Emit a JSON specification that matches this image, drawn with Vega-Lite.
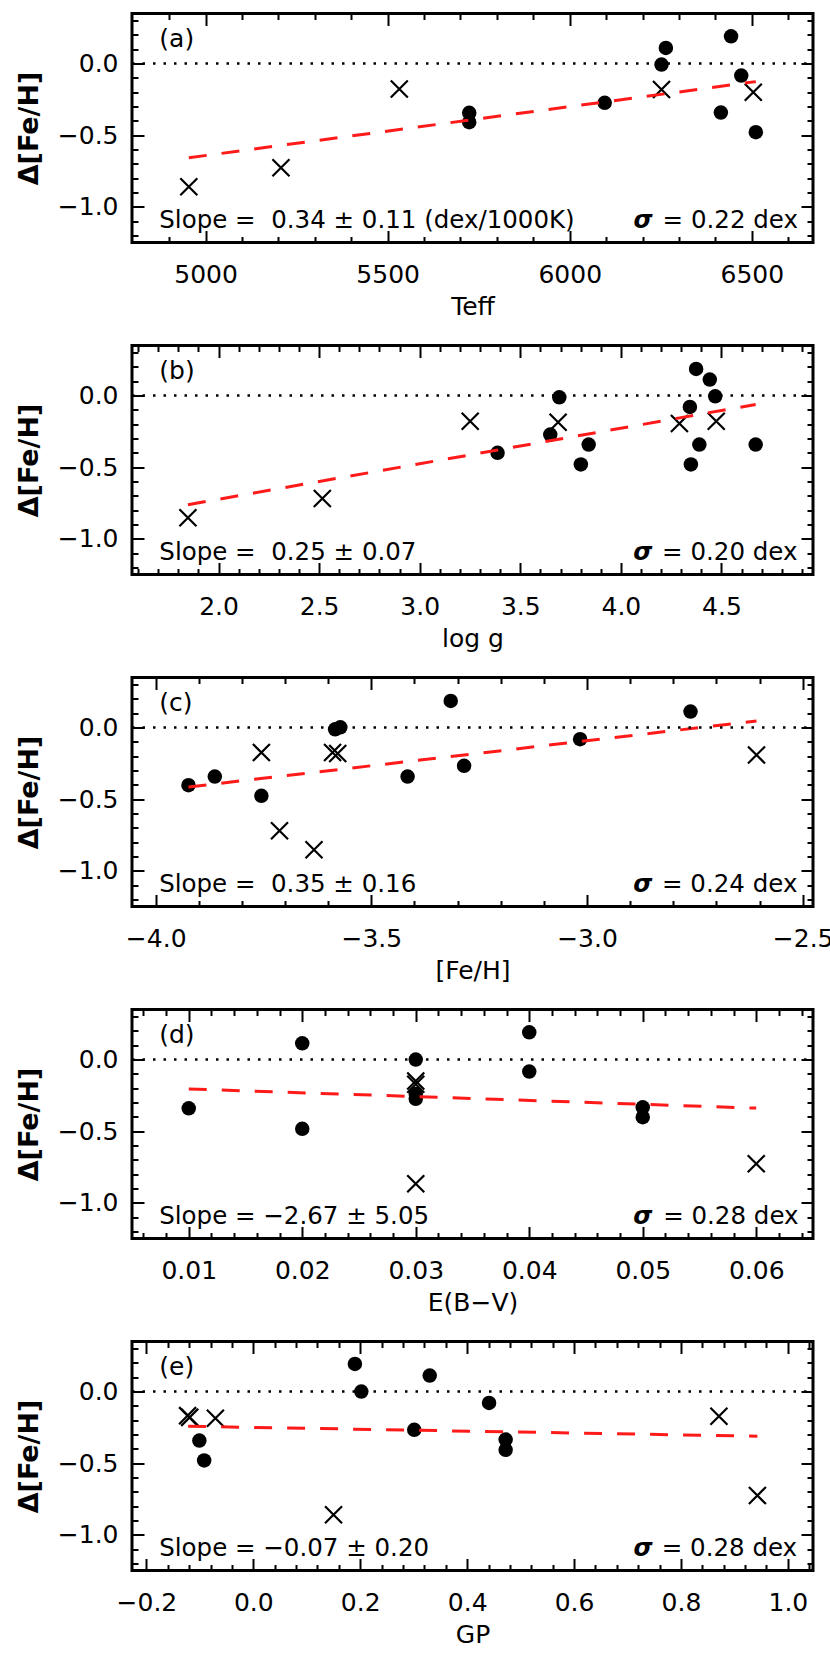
{
  "$schema": "https://vega.github.io/schema/vega-lite/v6.json",
  "background": "white",
  "padding": {"left": 13, "top": 10.5, "right": 0, "bottom": 0},
  "bounds": "flush",
  "spacing": 103,
  "config": {
    "font": "DejaVu Sans",
    "view": {"stroke": "black", "strokeWidth": 3},
    "axis": {"labelFont": "DejaVu Sans", "labelFontSize": 25, "labelColor": "black", "titleFont": "DejaVu Sans", "titleFontSize": 25, "titleFontWeight": "normal", "titleColor": "black", "grid": false, "domain": false, "tickColor": "black", "tickWidth": 2, "labelFlush": false, "labelOverlap": false, "labelBound": false},
    "text": {"font": "DejaVu Sans", "color": "black"}
  },
  "datasets": {
    "one": [{"k": 1}],
    "pa": [
      {"x": 5724, "d": -0.344, "kind": "circle"}, {"x": 5724, "d": -0.409, "kind": "circle"}, {"x": 6096, "d": -0.274, "kind": "circle"},
      {"x": 6252, "d": -0.007, "kind": "circle"}, {"x": 6264, "d": 0.109, "kind": "circle"}, {"x": 6443, "d": 0.191, "kind": "circle"},
      {"x": 6471, "d": -0.084, "kind": "circle"}, {"x": 6415, "d": -0.342, "kind": "circle"}, {"x": 6511, "d": -0.479, "kind": "circle"},
      {"x": 4954, "d": -0.86, "kind": "cross"}, {"x": 5207, "d": -0.728, "kind": "cross"}, {"x": 5532, "d": -0.177, "kind": "cross"},
      {"x": 6252, "d": -0.181, "kind": "cross"}, {"x": 6504, "d": -0.2, "kind": "cross"}
    ],
    "fa": [{"x": 4954, "d": -0.658}, {"x": 6511, "d": -0.126}],
    "pb": [
      {"x": 3.387, "d": -0.4, "kind": "circle"}, {"x": 3.649, "d": -0.272, "kind": "circle"}, {"x": 3.694, "d": -0.012, "kind": "circle"},
      {"x": 3.801, "d": -0.481, "kind": "circle"}, {"x": 3.84, "d": -0.342, "kind": "circle"}, {"x": 4.343, "d": -0.079, "kind": "circle"},
      {"x": 4.348, "d": -0.481, "kind": "circle"}, {"x": 4.374, "d": 0.186, "kind": "circle"}, {"x": 4.39, "d": -0.342, "kind": "circle"},
      {"x": 4.442, "d": 0.112, "kind": "circle"}, {"x": 4.469, "d": -0.005, "kind": "circle"}, {"x": 4.67, "d": -0.342, "kind": "circle"},
      {"x": 1.848, "d": -0.853, "kind": "cross"}, {"x": 2.516, "d": -0.719, "kind": "cross"}, {"x": 3.251, "d": -0.179, "kind": "cross"},
      {"x": 3.688, "d": -0.186, "kind": "cross"}, {"x": 4.291, "d": -0.195, "kind": "cross"}, {"x": 4.474, "d": -0.179, "kind": "cross"}
    ],
    "fb": [{"x": 1.848, "d": -0.762}, {"x": 4.67, "d": -0.062}],
    "pc": [
      {"x": -3.924, "d": -0.402, "kind": "circle"}, {"x": -3.863, "d": -0.342, "kind": "circle"}, {"x": -3.755, "d": -0.477, "kind": "circle"},
      {"x": -3.584, "d": -0.012, "kind": "circle"}, {"x": -3.572, "d": 0.002, "kind": "circle"}, {"x": -3.416, "d": -0.342, "kind": "circle"},
      {"x": -3.316, "d": 0.186, "kind": "circle"}, {"x": -3.285, "d": -0.267, "kind": "circle"}, {"x": -3.016, "d": -0.081, "kind": "circle"},
      {"x": -2.76, "d": 0.112, "kind": "circle"},
      {"x": -3.755, "d": -0.174, "kind": "cross"}, {"x": -3.713, "d": -0.721, "kind": "cross"}, {"x": -3.633, "d": -0.853, "kind": "cross"},
      {"x": -3.59, "d": -0.174, "kind": "cross"}, {"x": -3.578, "d": -0.181, "kind": "cross"}, {"x": -2.607, "d": -0.191, "kind": "cross"}
    ],
    "fc": [{"x": -3.924, "d": -0.415}, {"x": -2.607, "d": 0.046}],
    "pd": [
      {"x": 0.01, "d": -0.34, "kind": "circle"}, {"x": 0.02, "d": 0.114, "kind": "circle"}, {"x": 0.02, "d": -0.484, "kind": "circle"},
      {"x": 0.03, "d": 0.0, "kind": "circle"}, {"x": 0.03, "d": -0.24, "kind": "circle"}, {"x": 0.03, "d": -0.274, "kind": "circle"},
      {"x": 0.04, "d": 0.191, "kind": "circle"}, {"x": 0.04, "d": -0.084, "kind": "circle"}, {"x": 0.05, "d": -0.333, "kind": "circle"},
      {"x": 0.05, "d": -0.402, "kind": "circle"},
      {"x": 0.03, "d": -0.15, "kind": "cross"}, {"x": 0.03, "d": -0.172, "kind": "cross"}, {"x": 0.03, "d": -0.867, "kind": "cross"},
      {"x": 0.06, "d": -0.728, "kind": "cross"}
    ],
    "fd": [{"x": 0.01, "d": -0.205}, {"x": 0.06, "d": -0.339}],
    "pe": [
      {"x": -0.101, "d": -0.342, "kind": "circle"}, {"x": -0.092, "d": -0.481, "kind": "circle"}, {"x": 0.19, "d": 0.193, "kind": "circle"},
      {"x": 0.202, "d": 0.0, "kind": "circle"}, {"x": 0.301, "d": -0.267, "kind": "circle"}, {"x": 0.33, "d": 0.112, "kind": "circle"},
      {"x": 0.441, "d": -0.079, "kind": "circle"}, {"x": 0.472, "d": -0.335, "kind": "circle"}, {"x": 0.472, "d": -0.407, "kind": "circle"},
      {"x": -0.123, "d": -0.168, "kind": "cross"}, {"x": -0.119, "d": -0.18, "kind": "cross"}, {"x": -0.071, "d": -0.186, "kind": "cross"},
      {"x": 0.15, "d": -0.86, "kind": "cross"}, {"x": 0.871, "d": -0.172, "kind": "cross"}, {"x": 0.943, "d": -0.726, "kind": "cross"}
    ],
    "fe": [{"x": -0.122, "d": -0.242}, {"x": 0.943, "d": -0.312}]
  },
  "vconcat": [
    {
      "width": 681, "height": 229,
      "resolve": {"axis": {"x": "independent", "y": "independent"}},
      "layer": [
        {"data": {"name": "pa"}, "transform": [{"filter": "datum.kind === 'circle'"}],
         "mark": {"type": "point", "shape": "circle", "filled": true, "color": "black", "opacity": 1, "size": 210},
         "encoding": {
           "x": {"field": "x", "type": "quantitative", "scale": {"domain": [4798, 6668], "nice": false, "zero": false},
                 "axis": {"orient": "bottom", "values": [5000, 5500, 6000, 6500], "format": "d", "ticks": false, "labelPadding": 20, "title": "Teff", "titlePadding": 7}},
           "y": {"field": "d", "type": "quantitative", "scale": {"domain": [-1.25, 0.35], "nice": false, "zero": false},
                 "axis": {"orient": "left", "values": [0, -0.5, -1], "format": ".1f", "ticks": false, "labelPadding": 14, "title": "Δ[Fe/H]", "titleFontWeight": "bold", "titleFontSize": 27, "titlePadding": 14}}
         }},
        {"data": {"name": "pa"}, "transform": [{"filter": "datum.kind === 'cross'"}],
         "mark": {"type": "point", "shape": "M-1,-1L1,1M-1,1L1,-1", "filled": false, "color": "black", "opacity": 1, "size": 290, "strokeWidth": 2.2},
         "encoding": {
           "x": {"field": "x", "type": "quantitative", "scale": {"domain": [4798, 6668], "nice": false, "zero": false},
                 "axis": {"orient": "bottom", "values": [5000, 5500, 6000, 6500], "labels": false, "tickSize": -12, "title": null}},
           "y": {"field": "d", "type": "quantitative", "scale": {"domain": [-1.25, 0.35], "nice": false, "zero": false},
                 "axis": {"orient": "left", "values": [0, -0.5, -1], "labels": false, "tickSize": -12, "title": null}}
         }},
        {"data": {"name": "fa"},
         "mark": {"type": "line", "color": "#ff1a1a", "strokeWidth": 3, "strokeDash": [18, 15]},
         "encoding": {
           "x": {"field": "x", "type": "quantitative", "scale": {"domain": [4798, 6668], "nice": false, "zero": false},
                 "axis": {"orient": "bottom", "values": [4900, 5100, 5200, 5300, 5400, 5600, 5700, 5800, 5900, 6100, 6200, 6300, 6400, 6600], "labels": false, "tickSize": -6, "title": null}},
           "y": {"field": "d", "type": "quantitative", "scale": {"domain": [-1.25, 0.35], "nice": false, "zero": false},
                 "axis": {"orient": "left", "values": [0.3, 0.2, 0.1, -0.1, -0.2, -0.3, -0.4, -0.6, -0.7, -0.8, -0.9, -1.1, -1.2], "labels": false, "tickSize": -6, "title": null}}
         }},
        {"data": {"name": "one"},
         "mark": {"type": "rule", "color": "black", "strokeWidth": 2.5, "strokeDash": [2.5, 8]},
         "encoding": {
           "x": {"datum": 4798, "type": "quantitative", "scale": {"domain": [4798, 6668], "nice": false, "zero": false},
                 "axis": {"orient": "top", "values": [5000, 5500, 6000, 6500], "labels": false, "tickSize": -12, "title": null}},
           "x2": {"datum": 6668},
           "y": {"datum": 0, "type": "quantitative", "scale": {"domain": [-1.25, 0.35], "nice": false, "zero": false},
                 "axis": {"orient": "right", "values": [0, -0.5, -1], "labels": false, "tickSize": -12, "title": null}}
         }},
        {"data": {"name": "one"},
         "mark": {"type": "text", "align": "left", "baseline": "middle", "fontSize": 25},
         "encoding": {
           "text": {"value": "(a)"},
           "x": {"datum": 4873, "type": "quantitative", "scale": {"domain": [4798, 6668], "nice": false, "zero": false},
                 "axis": {"orient": "top", "values": [4900, 5100, 5200, 5300, 5400, 5600, 5700, 5800, 5900, 6100, 6200, 6300, 6400, 6600], "labels": false, "tickSize": -6, "title": null}},
           "y": {"datum": 0.175, "type": "quantitative", "scale": {"domain": [-1.25, 0.35], "nice": false, "zero": false},
                 "axis": {"orient": "right", "values": [0.3, 0.2, 0.1, -0.1, -0.2, -0.3, -0.4, -0.6, -0.7, -0.8, -0.9, -1.1, -1.2], "labels": false, "tickSize": -6, "title": null}}
         }},
        {"data": {"name": "one"},
         "mark": {"type": "text", "align": "left", "baseline": "alphabetic", "fontSize": 24.5},
         "encoding": {
           "text": {"value": "Slope = \u00a00.34 ± 0.11 (dex/1000K)"},
           "x": {"datum": 4873, "type": "quantitative", "scale": {"domain": [4798, 6668], "nice": false, "zero": false}, "axis": null},
           "y": {"datum": -1.15, "type": "quantitative", "scale": {"domain": [-1.25, 0.35], "nice": false, "zero": false}, "axis": null}
         }},
        {"data": {"name": "one"},
         "mark": {"type": "text", "align": "left", "baseline": "alphabetic", "fontSize": 24.5, "fontStyle": "italic", "fontWeight": "bold"},
         "encoding": {
           "text": {"value": "σ"},
           "x": {"datum": 6175, "type": "quantitative", "scale": {"domain": [4798, 6668], "nice": false, "zero": false}, "axis": null},
           "y": {"datum": -1.15, "type": "quantitative", "scale": {"domain": [-1.25, 0.35], "nice": false, "zero": false}, "axis": null}
         }},
        {"data": {"name": "one"},
         "mark": {"type": "text", "align": "left", "baseline": "alphabetic", "fontSize": 24.5},
         "encoding": {
           "text": {"value": "= 0.22 dex"},
           "x": {"datum": 6255, "type": "quantitative", "scale": {"domain": [4798, 6668], "nice": false, "zero": false}, "axis": null},
           "y": {"datum": -1.15, "type": "quantitative", "scale": {"domain": [-1.25, 0.35], "nice": false, "zero": false}, "axis": null}
         }}
      ]
    },
    {
      "width": 681, "height": 229,
      "resolve": {"axis": {"x": "independent", "y": "independent"}},
      "layer": [
        {"data": {"name": "pb"}, "transform": [{"filter": "datum.kind === 'circle'"}],
         "mark": {"type": "point", "shape": "circle", "filled": true, "color": "black", "opacity": 1, "size": 210},
         "encoding": {
           "x": {"field": "x", "type": "quantitative", "scale": {"domain": [1.57, 4.955], "nice": false, "zero": false},
                 "axis": {"orient": "bottom", "values": [2.0, 2.5, 3.0, 3.5, 4.0, 4.5], "format": ".1f", "ticks": false, "labelPadding": 20, "title": "log g", "titlePadding": 7}},
           "y": {"field": "d", "type": "quantitative", "scale": {"domain": [-1.25, 0.35], "nice": false, "zero": false},
                 "axis": {"orient": "left", "values": [0, -0.5, -1], "format": ".1f", "ticks": false, "labelPadding": 14, "title": "Δ[Fe/H]", "titleFontWeight": "bold", "titleFontSize": 27, "titlePadding": 14}}
         }},
        {"data": {"name": "pb"}, "transform": [{"filter": "datum.kind === 'cross'"}],
         "mark": {"type": "point", "shape": "M-1,-1L1,1M-1,1L1,-1", "filled": false, "color": "black", "opacity": 1, "size": 290, "strokeWidth": 2.2},
         "encoding": {
           "x": {"field": "x", "type": "quantitative", "scale": {"domain": [1.57, 4.955], "nice": false, "zero": false},
                 "axis": {"orient": "bottom", "values": [2.0, 2.5, 3.0, 3.5, 4.0, 4.5], "labels": false, "tickSize": -12, "title": null}},
           "y": {"field": "d", "type": "quantitative", "scale": {"domain": [-1.25, 0.35], "nice": false, "zero": false},
                 "axis": {"orient": "left", "values": [0, -0.5, -1], "labels": false, "tickSize": -12, "title": null}}
         }},
        {"data": {"name": "fb"},
         "mark": {"type": "line", "color": "#ff1a1a", "strokeWidth": 3, "strokeDash": [18, 15]},
         "encoding": {
           "x": {"field": "x", "type": "quantitative", "scale": {"domain": [1.57, 4.955], "nice": false, "zero": false},
                 "axis": {"orient": "bottom", "values": [1.6, 1.7, 1.8, 1.9, 2.1, 2.2, 2.3, 2.4, 2.6, 2.7, 2.8, 2.9, 3.1, 3.2, 3.3, 3.4, 3.6, 3.7, 3.8, 3.9, 4.1, 4.2, 4.3, 4.4, 4.6, 4.7, 4.8, 4.9], "labels": false, "tickSize": -6, "title": null}},
           "y": {"field": "d", "type": "quantitative", "scale": {"domain": [-1.25, 0.35], "nice": false, "zero": false},
                 "axis": {"orient": "left", "values": [0.3, 0.2, 0.1, -0.1, -0.2, -0.3, -0.4, -0.6, -0.7, -0.8, -0.9, -1.1, -1.2], "labels": false, "tickSize": -6, "title": null}}
         }},
        {"data": {"name": "one"},
         "mark": {"type": "rule", "color": "black", "strokeWidth": 2.5, "strokeDash": [2.5, 8]},
         "encoding": {
           "x": {"datum": 1.57, "type": "quantitative", "scale": {"domain": [1.57, 4.955], "nice": false, "zero": false},
                 "axis": {"orient": "top", "values": [2.0, 2.5, 3.0, 3.5, 4.0, 4.5], "labels": false, "tickSize": -12, "title": null}},
           "x2": {"datum": 4.955},
           "y": {"datum": 0, "type": "quantitative", "scale": {"domain": [-1.25, 0.35], "nice": false, "zero": false},
                 "axis": {"orient": "right", "values": [0, -0.5, -1], "labels": false, "tickSize": -12, "title": null}}
         }},
        {"data": {"name": "one"},
         "mark": {"type": "text", "align": "left", "baseline": "middle", "fontSize": 25},
         "encoding": {
           "text": {"value": "(b)"},
           "x": {"datum": 1.706, "type": "quantitative", "scale": {"domain": [1.57, 4.955], "nice": false, "zero": false},
                 "axis": {"orient": "top", "values": [1.6, 1.7, 1.8, 1.9, 2.1, 2.2, 2.3, 2.4, 2.6, 2.7, 2.8, 2.9, 3.1, 3.2, 3.3, 3.4, 3.6, 3.7, 3.8, 3.9, 4.1, 4.2, 4.3, 4.4, 4.6, 4.7, 4.8, 4.9], "labels": false, "tickSize": -6, "title": null}},
           "y": {"datum": 0.175, "type": "quantitative", "scale": {"domain": [-1.25, 0.35], "nice": false, "zero": false},
                 "axis": {"orient": "right", "values": [0.3, 0.2, 0.1, -0.1, -0.2, -0.3, -0.4, -0.6, -0.7, -0.8, -0.9, -1.1, -1.2], "labels": false, "tickSize": -6, "title": null}}
         }},
        {"data": {"name": "one"},
         "mark": {"type": "text", "align": "left", "baseline": "alphabetic", "fontSize": 24.5},
         "encoding": {
           "text": {"value": "Slope = \u00a00.25 ± 0.07"},
           "x": {"datum": 1.706, "type": "quantitative", "scale": {"domain": [1.57, 4.955], "nice": false, "zero": false}, "axis": null},
           "y": {"datum": -1.15, "type": "quantitative", "scale": {"domain": [-1.25, 0.35], "nice": false, "zero": false}, "axis": null}
         }},
        {"data": {"name": "one"},
         "mark": {"type": "text", "align": "left", "baseline": "alphabetic", "fontSize": 24.5, "fontStyle": "italic", "fontWeight": "bold"},
         "encoding": {
           "text": {"value": "σ"},
           "x": {"datum": 4.062, "type": "quantitative", "scale": {"domain": [1.57, 4.955], "nice": false, "zero": false}, "axis": null},
           "y": {"datum": -1.15, "type": "quantitative", "scale": {"domain": [-1.25, 0.35], "nice": false, "zero": false}, "axis": null}
         }},
        {"data": {"name": "one"},
         "mark": {"type": "text", "align": "left", "baseline": "alphabetic", "fontSize": 24.5},
         "encoding": {
           "text": {"value": "= 0.20 dex"},
           "x": {"datum": 4.205, "type": "quantitative", "scale": {"domain": [1.57, 4.955], "nice": false, "zero": false}, "axis": null},
           "y": {"datum": -1.15, "type": "quantitative", "scale": {"domain": [-1.25, 0.35], "nice": false, "zero": false}, "axis": null}
         }}
      ]
    },
    {
      "width": 681, "height": 229,
      "resolve": {"axis": {"x": "independent", "y": "independent"}},
      "layer": [
        {"data": {"name": "pc"}, "transform": [{"filter": "datum.kind === 'circle'"}],
         "mark": {"type": "point", "shape": "circle", "filled": true, "color": "black", "opacity": 1, "size": 210},
         "encoding": {
           "x": {"field": "x", "type": "quantitative", "scale": {"domain": [-4.055, -2.476], "nice": false, "zero": false},
                 "axis": {"orient": "bottom", "values": [-4.0, -3.5, -3.0, -2.5], "format": ".1f", "ticks": false, "labelPadding": 20, "title": "[Fe/H]", "titlePadding": 7}},
           "y": {"field": "d", "type": "quantitative", "scale": {"domain": [-1.25, 0.35], "nice": false, "zero": false},
                 "axis": {"orient": "left", "values": [0, -0.5, -1], "format": ".1f", "ticks": false, "labelPadding": 14, "title": "Δ[Fe/H]", "titleFontWeight": "bold", "titleFontSize": 27, "titlePadding": 14}}
         }},
        {"data": {"name": "pc"}, "transform": [{"filter": "datum.kind === 'cross'"}],
         "mark": {"type": "point", "shape": "M-1,-1L1,1M-1,1L1,-1", "filled": false, "color": "black", "opacity": 1, "size": 290, "strokeWidth": 2.2},
         "encoding": {
           "x": {"field": "x", "type": "quantitative", "scale": {"domain": [-4.055, -2.476], "nice": false, "zero": false},
                 "axis": {"orient": "bottom", "values": [-4.0, -3.5, -3.0, -2.5], "labels": false, "tickSize": -12, "title": null}},
           "y": {"field": "d", "type": "quantitative", "scale": {"domain": [-1.25, 0.35], "nice": false, "zero": false},
                 "axis": {"orient": "left", "values": [0, -0.5, -1], "labels": false, "tickSize": -12, "title": null}}
         }},
        {"data": {"name": "fc"},
         "mark": {"type": "line", "color": "#ff1a1a", "strokeWidth": 3, "strokeDash": [18, 15]},
         "encoding": {
           "x": {"field": "x", "type": "quantitative", "scale": {"domain": [-4.055, -2.476], "nice": false, "zero": false},
                 "axis": {"orient": "bottom", "values": [-3.9, -3.8, -3.7, -3.6, -3.4, -3.3, -3.2, -3.1, -2.9, -2.8, -2.7, -2.6], "labels": false, "tickSize": -6, "title": null}},
           "y": {"field": "d", "type": "quantitative", "scale": {"domain": [-1.25, 0.35], "nice": false, "zero": false},
                 "axis": {"orient": "left", "values": [0.3, 0.2, 0.1, -0.1, -0.2, -0.3, -0.4, -0.6, -0.7, -0.8, -0.9, -1.1, -1.2], "labels": false, "tickSize": -6, "title": null}}
         }},
        {"data": {"name": "one"},
         "mark": {"type": "rule", "color": "black", "strokeWidth": 2.5, "strokeDash": [2.5, 8]},
         "encoding": {
           "x": {"datum": -4.055, "type": "quantitative", "scale": {"domain": [-4.055, -2.476], "nice": false, "zero": false},
                 "axis": {"orient": "top", "values": [-4.0, -3.5, -3.0, -2.5], "labels": false, "tickSize": -12, "title": null}},
           "x2": {"datum": -2.476},
           "y": {"datum": 0, "type": "quantitative", "scale": {"domain": [-1.25, 0.35], "nice": false, "zero": false},
                 "axis": {"orient": "right", "values": [0, -0.5, -1], "labels": false, "tickSize": -12, "title": null}}
         }},
        {"data": {"name": "one"},
         "mark": {"type": "text", "align": "left", "baseline": "middle", "fontSize": 25},
         "encoding": {
           "text": {"value": "(c)"},
           "x": {"datum": -3.992, "type": "quantitative", "scale": {"domain": [-4.055, -2.476], "nice": false, "zero": false},
                 "axis": {"orient": "top", "values": [-3.9, -3.8, -3.7, -3.6, -3.4, -3.3, -3.2, -3.1, -2.9, -2.8, -2.7, -2.6], "labels": false, "tickSize": -6, "title": null}},
           "y": {"datum": 0.175, "type": "quantitative", "scale": {"domain": [-1.25, 0.35], "nice": false, "zero": false},
                 "axis": {"orient": "right", "values": [0.3, 0.2, 0.1, -0.1, -0.2, -0.3, -0.4, -0.6, -0.7, -0.8, -0.9, -1.1, -1.2], "labels": false, "tickSize": -6, "title": null}}
         }},
        {"data": {"name": "one"},
         "mark": {"type": "text", "align": "left", "baseline": "alphabetic", "fontSize": 24.5},
         "encoding": {
           "text": {"value": "Slope = \u00a00.35 ± 0.16"},
           "x": {"datum": -3.992, "type": "quantitative", "scale": {"domain": [-4.055, -2.476], "nice": false, "zero": false}, "axis": null},
           "y": {"datum": -1.15, "type": "quantitative", "scale": {"domain": [-1.25, 0.35], "nice": false, "zero": false}, "axis": null}
         }},
        {"data": {"name": "one"},
         "mark": {"type": "text", "align": "left", "baseline": "alphabetic", "fontSize": 24.5, "fontStyle": "italic", "fontWeight": "bold"},
         "encoding": {
           "text": {"value": "σ"},
           "x": {"datum": -2.893, "type": "quantitative", "scale": {"domain": [-4.055, -2.476], "nice": false, "zero": false}, "axis": null},
           "y": {"datum": -1.15, "type": "quantitative", "scale": {"domain": [-1.25, 0.35], "nice": false, "zero": false}, "axis": null}
         }},
        {"data": {"name": "one"},
         "mark": {"type": "text", "align": "left", "baseline": "alphabetic", "fontSize": 24.5},
         "encoding": {
           "text": {"value": "= 0.24 dex"},
           "x": {"datum": -2.826, "type": "quantitative", "scale": {"domain": [-4.055, -2.476], "nice": false, "zero": false}, "axis": null},
           "y": {"datum": -1.15, "type": "quantitative", "scale": {"domain": [-1.25, 0.35], "nice": false, "zero": false}, "axis": null}
         }}
      ]
    },
    {
      "width": 681, "height": 229,
      "resolve": {"axis": {"x": "independent", "y": "independent"}},
      "layer": [
        {"data": {"name": "pd"}, "transform": [{"filter": "datum.kind === 'circle'"}],
         "mark": {"type": "point", "shape": "circle", "filled": true, "color": "black", "opacity": 1, "size": 210},
         "encoding": {
           "x": {"field": "x", "type": "quantitative", "scale": {"domain": [0.005, 0.065], "nice": false, "zero": false},
                 "axis": {"orient": "bottom", "values": [0.01, 0.02, 0.03, 0.04, 0.05, 0.06], "format": ".2f", "ticks": false, "labelPadding": 20, "title": "E(B−V)", "titlePadding": 7}},
           "y": {"field": "d", "type": "quantitative", "scale": {"domain": [-1.25, 0.35], "nice": false, "zero": false},
                 "axis": {"orient": "left", "values": [0, -0.5, -1], "format": ".1f", "ticks": false, "labelPadding": 14, "title": "Δ[Fe/H]", "titleFontWeight": "bold", "titleFontSize": 27, "titlePadding": 14}}
         }},
        {"data": {"name": "pd"}, "transform": [{"filter": "datum.kind === 'cross'"}],
         "mark": {"type": "point", "shape": "M-1,-1L1,1M-1,1L1,-1", "filled": false, "color": "black", "opacity": 1, "size": 290, "strokeWidth": 2.2},
         "encoding": {
           "x": {"field": "x", "type": "quantitative", "scale": {"domain": [0.005, 0.065], "nice": false, "zero": false},
                 "axis": {"orient": "bottom", "values": [0.01, 0.02, 0.03, 0.04, 0.05, 0.06], "labels": false, "tickSize": -12, "title": null}},
           "y": {"field": "d", "type": "quantitative", "scale": {"domain": [-1.25, 0.35], "nice": false, "zero": false},
                 "axis": {"orient": "left", "values": [0, -0.5, -1], "labels": false, "tickSize": -12, "title": null}}
         }},
        {"data": {"name": "fd"},
         "mark": {"type": "line", "color": "#ff1a1a", "strokeWidth": 3, "strokeDash": [18, 15]},
         "encoding": {
           "x": {"field": "x", "type": "quantitative", "scale": {"domain": [0.005, 0.065], "nice": false, "zero": false},
                 "axis": {"orient": "bottom", "values": [0.006, 0.008, 0.012, 0.014, 0.016, 0.018, 0.022, 0.024, 0.026, 0.028, 0.032, 0.034, 0.036, 0.038, 0.042, 0.044, 0.046, 0.048, 0.052, 0.054, 0.056, 0.058, 0.062, 0.064], "labels": false, "tickSize": -6, "title": null}},
           "y": {"field": "d", "type": "quantitative", "scale": {"domain": [-1.25, 0.35], "nice": false, "zero": false},
                 "axis": {"orient": "left", "values": [0.3, 0.2, 0.1, -0.1, -0.2, -0.3, -0.4, -0.6, -0.7, -0.8, -0.9, -1.1, -1.2], "labels": false, "tickSize": -6, "title": null}}
         }},
        {"data": {"name": "one"},
         "mark": {"type": "rule", "color": "black", "strokeWidth": 2.5, "strokeDash": [2.5, 8]},
         "encoding": {
           "x": {"datum": 0.005, "type": "quantitative", "scale": {"domain": [0.005, 0.065], "nice": false, "zero": false},
                 "axis": {"orient": "top", "values": [0.01, 0.02, 0.03, 0.04, 0.05, 0.06], "labels": false, "tickSize": -12, "title": null}},
           "x2": {"datum": 0.065},
           "y": {"datum": 0, "type": "quantitative", "scale": {"domain": [-1.25, 0.35], "nice": false, "zero": false},
                 "axis": {"orient": "right", "values": [0, -0.5, -1], "labels": false, "tickSize": -12, "title": null}}
         }},
        {"data": {"name": "one"},
         "mark": {"type": "text", "align": "left", "baseline": "middle", "fontSize": 25},
         "encoding": {
           "text": {"value": "(d)"},
           "x": {"datum": 0.0074, "type": "quantitative", "scale": {"domain": [0.005, 0.065], "nice": false, "zero": false},
                 "axis": {"orient": "top", "values": [0.006, 0.008, 0.012, 0.014, 0.016, 0.018, 0.022, 0.024, 0.026, 0.028, 0.032, 0.034, 0.036, 0.038, 0.042, 0.044, 0.046, 0.048, 0.052, 0.054, 0.056, 0.058, 0.062, 0.064], "labels": false, "tickSize": -6, "title": null}},
           "y": {"datum": 0.175, "type": "quantitative", "scale": {"domain": [-1.25, 0.35], "nice": false, "zero": false},
                 "axis": {"orient": "right", "values": [0.3, 0.2, 0.1, -0.1, -0.2, -0.3, -0.4, -0.6, -0.7, -0.8, -0.9, -1.1, -1.2], "labels": false, "tickSize": -6, "title": null}}
         }},
        {"data": {"name": "one"},
         "mark": {"type": "text", "align": "left", "baseline": "alphabetic", "fontSize": 24.5},
         "encoding": {
           "text": {"value": "Slope = −2.67 ± 5.05"},
           "x": {"datum": 0.0074, "type": "quantitative", "scale": {"domain": [0.005, 0.065], "nice": false, "zero": false}, "axis": null},
           "y": {"datum": -1.15, "type": "quantitative", "scale": {"domain": [-1.25, 0.35], "nice": false, "zero": false}, "axis": null}
         }},
        {"data": {"name": "one"},
         "mark": {"type": "text", "align": "left", "baseline": "alphabetic", "fontSize": 24.5, "fontStyle": "italic", "fontWeight": "bold"},
         "encoding": {
           "text": {"value": "σ"},
           "x": {"datum": 0.04917, "type": "quantitative", "scale": {"domain": [0.005, 0.065], "nice": false, "zero": false}, "axis": null},
           "y": {"datum": -1.15, "type": "quantitative", "scale": {"domain": [-1.25, 0.35], "nice": false, "zero": false}, "axis": null}
         }},
        {"data": {"name": "one"},
         "mark": {"type": "text", "align": "left", "baseline": "alphabetic", "fontSize": 24.5},
         "encoding": {
           "text": {"value": "= 0.28 dex"},
           "x": {"datum": 0.0518, "type": "quantitative", "scale": {"domain": [0.005, 0.065], "nice": false, "zero": false}, "axis": null},
           "y": {"datum": -1.15, "type": "quantitative", "scale": {"domain": [-1.25, 0.35], "nice": false, "zero": false}, "axis": null}
         }}
      ]
    },
    {
      "width": 681, "height": 229,
      "resolve": {"axis": {"x": "independent", "y": "independent"}},
      "layer": [
        {"data": {"name": "pe"}, "transform": [{"filter": "datum.kind === 'circle'"}],
         "mark": {"type": "point", "shape": "circle", "filled": true, "color": "black", "opacity": 1, "size": 210},
         "encoding": {
           "x": {"field": "x", "type": "quantitative", "scale": {"domain": [-0.227, 1.047], "nice": false, "zero": false},
                 "axis": {"orient": "bottom", "values": [-0.2, 0.0, 0.2, 0.4, 0.6, 0.8, 1.0], "format": ".1f", "ticks": false, "labelPadding": 20, "title": "GP", "titlePadding": 7}},
           "y": {"field": "d", "type": "quantitative", "scale": {"domain": [-1.25, 0.35], "nice": false, "zero": false},
                 "axis": {"orient": "left", "values": [0, -0.5, -1], "format": ".1f", "ticks": false, "labelPadding": 14, "title": "Δ[Fe/H]", "titleFontWeight": "bold", "titleFontSize": 27, "titlePadding": 14}}
         }},
        {"data": {"name": "pe"}, "transform": [{"filter": "datum.kind === 'cross'"}],
         "mark": {"type": "point", "shape": "M-1,-1L1,1M-1,1L1,-1", "filled": false, "color": "black", "opacity": 1, "size": 290, "strokeWidth": 2.2},
         "encoding": {
           "x": {"field": "x", "type": "quantitative", "scale": {"domain": [-0.227, 1.047], "nice": false, "zero": false},
                 "axis": {"orient": "bottom", "values": [-0.2, 0.0, 0.2, 0.4, 0.6, 0.8, 1.0], "labels": false, "tickSize": -12, "title": null}},
           "y": {"field": "d", "type": "quantitative", "scale": {"domain": [-1.25, 0.35], "nice": false, "zero": false},
                 "axis": {"orient": "left", "values": [0, -0.5, -1], "labels": false, "tickSize": -12, "title": null}}
         }},
        {"data": {"name": "fe"},
         "mark": {"type": "line", "color": "#ff1a1a", "strokeWidth": 3, "strokeDash": [18, 15]},
         "encoding": {
           "x": {"field": "x", "type": "quantitative", "scale": {"domain": [-0.227, 1.047], "nice": false, "zero": false},
                 "axis": {"orient": "bottom", "values": [-0.16, -0.12, -0.08, -0.04, 0.04, 0.08, 0.12, 0.16, 0.24, 0.28, 0.32, 0.36, 0.44, 0.48, 0.52, 0.56, 0.64, 0.68, 0.72, 0.76, 0.84, 0.88, 0.92, 0.96, 1.04], "labels": false, "tickSize": -6, "title": null}},
           "y": {"field": "d", "type": "quantitative", "scale": {"domain": [-1.25, 0.35], "nice": false, "zero": false},
                 "axis": {"orient": "left", "values": [0.3, 0.2, 0.1, -0.1, -0.2, -0.3, -0.4, -0.6, -0.7, -0.8, -0.9, -1.1, -1.2], "labels": false, "tickSize": -6, "title": null}}
         }},
        {"data": {"name": "one"},
         "mark": {"type": "rule", "color": "black", "strokeWidth": 2.5, "strokeDash": [2.5, 8]},
         "encoding": {
           "x": {"datum": -0.227, "type": "quantitative", "scale": {"domain": [-0.227, 1.047], "nice": false, "zero": false},
                 "axis": {"orient": "top", "values": [-0.2, 0.0, 0.2, 0.4, 0.6, 0.8, 1.0], "labels": false, "tickSize": -12, "title": null}},
           "x2": {"datum": 1.047},
           "y": {"datum": 0, "type": "quantitative", "scale": {"domain": [-1.25, 0.35], "nice": false, "zero": false},
                 "axis": {"orient": "right", "values": [0, -0.5, -1], "labels": false, "tickSize": -12, "title": null}}
         }},
        {"data": {"name": "one"},
         "mark": {"type": "text", "align": "left", "baseline": "middle", "fontSize": 25},
         "encoding": {
           "text": {"value": "(e)"},
           "x": {"datum": -0.176, "type": "quantitative", "scale": {"domain": [-0.227, 1.047], "nice": false, "zero": false},
                 "axis": {"orient": "top", "values": [-0.16, -0.12, -0.08, -0.04, 0.04, 0.08, 0.12, 0.16, 0.24, 0.28, 0.32, 0.36, 0.44, 0.48, 0.52, 0.56, 0.64, 0.68, 0.72, 0.76, 0.84, 0.88, 0.92, 0.96, 1.04], "labels": false, "tickSize": -6, "title": null}},
           "y": {"datum": 0.175, "type": "quantitative", "scale": {"domain": [-1.25, 0.35], "nice": false, "zero": false},
                 "axis": {"orient": "right", "values": [0.3, 0.2, 0.1, -0.1, -0.2, -0.3, -0.4, -0.6, -0.7, -0.8, -0.9, -1.1, -1.2], "labels": false, "tickSize": -6, "title": null}}
         }},
        {"data": {"name": "one"},
         "mark": {"type": "text", "align": "left", "baseline": "alphabetic", "fontSize": 24.5},
         "encoding": {
           "text": {"value": "Slope = −0.07 ± 0.20"},
           "x": {"datum": -0.176, "type": "quantitative", "scale": {"domain": [-0.227, 1.047], "nice": false, "zero": false}, "axis": null},
           "y": {"datum": -1.15, "type": "quantitative", "scale": {"domain": [-1.25, 0.35], "nice": false, "zero": false}, "axis": null}
         }},
        {"data": {"name": "one"},
         "mark": {"type": "text", "align": "left", "baseline": "alphabetic", "fontSize": 24.5, "fontStyle": "italic", "fontWeight": "bold"},
         "encoding": {
           "text": {"value": "σ"},
           "x": {"datum": 0.711, "type": "quantitative", "scale": {"domain": [-0.227, 1.047], "nice": false, "zero": false}, "axis": null},
           "y": {"datum": -1.15, "type": "quantitative", "scale": {"domain": [-1.25, 0.35], "nice": false, "zero": false}, "axis": null}
         }},
        {"data": {"name": "one"},
         "mark": {"type": "text", "align": "left", "baseline": "alphabetic", "fontSize": 24.5},
         "encoding": {
           "text": {"value": "= 0.28 dex"},
           "x": {"datum": 0.764, "type": "quantitative", "scale": {"domain": [-0.227, 1.047], "nice": false, "zero": false}, "axis": null},
           "y": {"datum": -1.15, "type": "quantitative", "scale": {"domain": [-1.25, 0.35], "nice": false, "zero": false}, "axis": null}
         }}
      ]
    }
  ]
}
